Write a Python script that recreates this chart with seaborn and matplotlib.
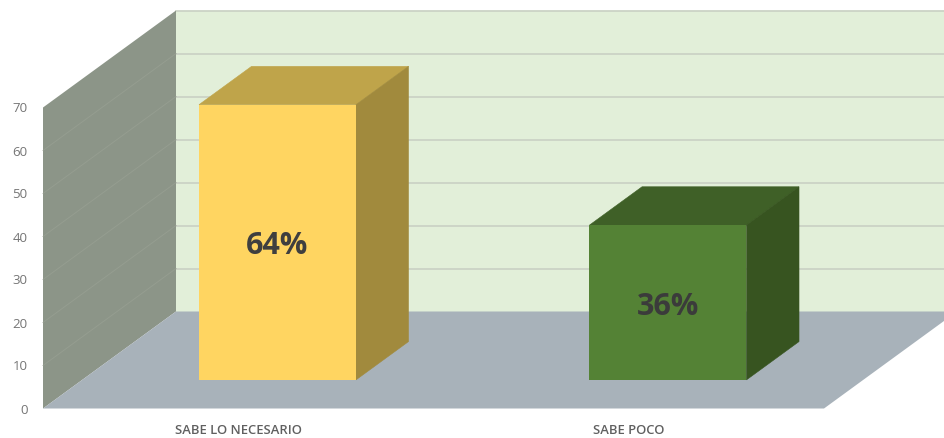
import matplotlib
matplotlib.use("Agg")
import matplotlib.pyplot as plt
from matplotlib.patches import Polygon
from matplotlib.transforms import Affine2D
import pandas as pd
import seaborn as sns

categories = ["SABE LO NECESARIO", "SABE POCO"]
values = [64, 36]
value_labels = ["64%", "36%"]
y_ticks = [0, 10, 20, 30, 40, 50, 60, 70]

front_colors = ["#FFD561", "#548235"]
top_colors = ["#BFA44A", "#3F6027"]
side_colors = ["#A18A3D", "#375420"]
label_colors = ["#3F3F3F", "#3B3B3B"]

WIDTH, HEIGHT = 945, 438
sns.set_theme(style="white")
plt.rcParams["font.family"] = ["Open Sans", "DejaVu Sans"]

fig = plt.figure(figsize=(WIDTH / 100, HEIGHT / 100), dpi=100, facecolor="white")
# The axes rectangle is the front plane of the 3D box
left, right, base, top = 43, 824, 408.5, 107.5
ax = fig.add_axes([left / WIDTH, 1 - base / HEIGHT, (right - left) / WIDTH, (base - top) / HEIGHT])

df = pd.DataFrame({"category": categories, "value": values})
sns.barplot(data=df, x="category", y="value", hue="category", palette=front_colors,
            legend=False, width=0.402, saturation=1, linewidth=0, ax=ax, zorder=5)
ax.set_xlim(-0.5, 1.5)
ax.set_ylim(0, 70)
ax.set_xlabel("")
ax.set_ylabel("")
ax.set_facecolor("none")
sns.despine(ax=ax, left=True, bottom=True, top=True, right=True)

# Oblique projection: depth 1 runs from the front plane to the back wall
DX, DY = 133 / 390.5, 97 / 4.3
BAR_FRONT, BAR_BACK = 0.295, 0.69


def project(x, y, depth):
    return (x + depth * DX, y + depth * DY)


def face(points, color, z, lw=0.0):
    ax.add_patch(Polygon(points, closed=True, facecolor=color, edgecolor=color,
                         linewidth=lw, clip_on=False, zorder=z))


x0, x1, y0, y1 = -0.5, 1.5, 0, 70

# Back wall with its horizontal gridlines
face([project(x0, y0, 1), project(x1, y0, 1), project(x1, y1, 1), project(x0, y1, 1)], "#E2EFD9", 1)
for tick in y_ticks[1:]:
    a, b = project(x0, tick, 1), project(x1, tick, 1)
    ax.plot([a[0], b[0]], [a[1], b[1]], color="#CBD3C6", lw=1.3, clip_on=False, zorder=1.5)

# Left wall with its oblique gridlines
face([project(x0, y0, 0), project(x0, y0, 1), project(x0, y1, 1), project(x0, y1, 0)], "#8C9588", 2)
for tick in y_ticks[1:-1]:
    a, b = project(x0, tick, 0), project(x0, tick, 1)
    ax.plot([a[0], b[0]], [a[1], b[1]], color="#959D90", lw=0.7, clip_on=False, zorder=2.5)

# Floor
face([project(x0, y0, 0), project(x1, y0, 0), project(x1, y0, 1), project(x0, y0, 1)], "#A8B2BA", 3)

# Turn the flat bars into boxes standing on the floor
shift = project(0, 0, BAR_FRONT)
bars = [p for p in ax.patches if p.get_zorder() == 5]
for bar, top_c, side_c, text, text_c in zip(bars, top_colors, side_colors, value_labels, label_colors):
    bar.set_transform(Affine2D().translate(*shift) + ax.transData)
    bar.set_clip_on(False)
    xa, xb, h = bar.get_x(), bar.get_x() + bar.get_width(), bar.get_height()
    corners = {
        "fl": project(xa, h, BAR_FRONT), "fr": project(xb, h, BAR_FRONT),
        "bl": project(xa, h, BAR_BACK), "br": project(xb, h, BAR_BACK),
        "fb": project(xb, 0, BAR_FRONT), "bb": project(xb, 0, BAR_BACK),
    }
    face([corners["fl"], corners["fr"], corners["br"], corners["bl"]], top_c, 4, 0.4)
    face([corners["fr"], corners["br"], corners["bb"], corners["fb"]], side_c, 4, 0.4)
    cx = (xa + xb) / 2 + shift[0]
    ax.annotate(text, xy=(cx, h / 2 + shift[1]), xytext=(0, -3), textcoords="offset points",
                ha="center", va="center", fontsize=22, fontweight="bold",
                color=text_c, zorder=6)

ax.set_yticks(y_ticks)
ax.tick_params(axis="y", length=0, pad=11, labelsize=9.5, labelcolor="#757575")
ax.tick_params(axis="x", length=0, pad=11.5, labelsize=9.4, labelcolor="#606060")
for label in ax.get_xticklabels():
    label.set_fontweight("semibold")

fig.savefig("out.png", dpi=100, facecolor="white")
